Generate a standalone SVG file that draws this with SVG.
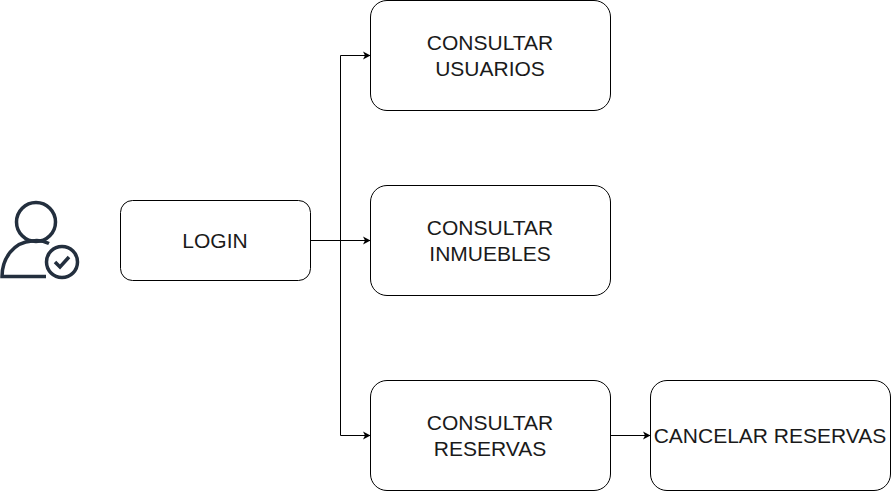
<svg xmlns="http://www.w3.org/2000/svg" width="891" height="491" viewBox="0 0 891 491">
<style>
.box{fill:#fff;stroke:#000;stroke-width:1}
.t{font-family:"Liberation Sans",Arial,sans-serif;font-size:21px;fill:#1a1a1a;text-anchor:middle}
.c{fill:none;stroke:#000;stroke-width:1}
.i{fill:none;stroke:#232f3e;stroke-width:3.500}
</style>
<defs><marker id="a" markerUnits="userSpaceOnUse" markerWidth="9" markerHeight="9" refX="8" refY="4.500" orient="auto"><path d="M0.500 0.500L8 4.500L0.500 8.500L2.500 4.500Z" fill="#000"/></marker></defs>
<rect width="891" height="491" fill="#fff"/>
<g id="connectors">
<path class="c" d="M310.500 240.500H340.500V55.500H370.500" marker-end="url(#a)"/>
<path class="c" d="M310.500 240.500H370.500" marker-end="url(#a)"/>
<path class="c" d="M340.500 240.500V435.500H370.500" marker-end="url(#a)"/>
<path class="c" d="M610.500 435.500H650.500" marker-end="url(#a)"/>
</g>
<g id="user-icon">
<circle class="i" cx="36" cy="222" r="19.500"/>
<path class="i" d="M49 243.500C44 241 38 240 32 241C14 242 2 258 2 276.500H46"/>
<circle class="i" cx="62" cy="262" r="15.500"/>
<path class="i" d="M55 262L60 267L69 257"/>
</g>
<g id="login"><rect class="box" x="120.500" y="200.500" width="190" height="80" rx="12" ry="12"/><text class="t" x="215" y="248">LOGIN</text></g>
<g id="consultar-usuarios"><rect class="box" x="370.500" y="0.500" width="240" height="110" rx="16.500" ry="16.500"/><text class="t" x="490" y="50">CONSULTAR</text><text class="t" x="490" y="76">USUARIOS</text></g>
<g id="consultar-inmuebles"><rect class="box" x="370.500" y="185.500" width="240" height="110" rx="16.500" ry="16.500"/><text class="t" x="490" y="235">CONSULTAR</text><text class="t" x="490" y="261">INMUEBLES</text></g>
<g id="consultar-reservas"><rect class="box" x="370.500" y="380.500" width="240" height="110" rx="16.500" ry="16.500"/><text class="t" x="490" y="430">CONSULTAR</text><text class="t" x="490" y="456">RESERVAS</text></g>
<g id="cancelar-reservas"><rect class="box" x="650.500" y="380.500" width="240" height="110" rx="16.500" ry="16.500"/><text class="t" x="770" y="443">CANCELAR RESERVAS</text></g>
</svg>
